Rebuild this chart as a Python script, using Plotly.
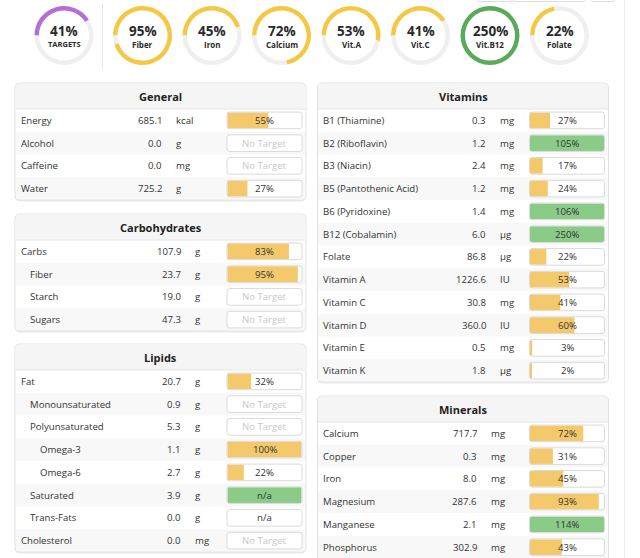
import plotly.graph_objects as go

# ---------------- data ----------------
ring_labels = ["TARGETS", "Fiber", "Iron", "Calcium", "Vit.A", "Vit.C", "Vit.B12", "Folate"]
ring_pct = [41, 95, 45, 72, 53, 41, 250, 22]

general_names = ["Energy", "Alcohol", "Caffeine", "Water"]
general_values = [685.1, 0.0, 0.0, 725.2]
general_units = ["kcal", "g", "mg", "g"]
general_pct = [55, None, None, 27]
general_indent = [0, 0, 0, 0]

carb_names = ["Carbs", "Fiber", "Starch", "Sugars"]
carb_values = [107.9, 23.7, 19.0, 47.3]
carb_units = ["g", "g", "g", "g"]
carb_pct = [83, 95, None, None]
carb_indent = [0, 1, 1, 1]

lipid_names = ["Fat", "Monounsaturated", "Polyunsaturated", "Omega-3", "Omega-6",
               "Saturated", "Trans-Fats", "Cholesterol"]
lipid_values = [20.7, 0.9, 5.3, 1.1, 2.7, 3.9, 0.0, 0.0]
lipid_units = ["g", "g", "g", "g", "g", "g", "g", "mg"]
lipid_pct = [32, None, None, 100, 22, "n/a", "n/a", None]
lipid_under_limit = [False, False, False, False, False, True, False, False]
lipid_indent = [0, 1, 1, 2, 2, 1, 1, 0]

vit_names = ["B1 (Thiamine)", "B2 (Riboflavin)", "B3 (Niacin)", "B5 (Pantothenic Acid)",
             "B6 (Pyridoxine)", "B12 (Cobalamin)", "Folate", "Vitamin A", "Vitamin C",
             "Vitamin D", "Vitamin E", "Vitamin K"]
vit_values = [0.3, 1.2, 2.4, 1.2, 1.4, 6.0, 86.8, 1226.6, 30.8, 360.0, 0.5, 1.8]
vit_units = ["mg", "mg", "mg", "mg", "mg", "µg", "µg", "IU", "mg", "IU", "mg", "µg"]
vit_pct = [27, 105, 17, 24, 106, 250, 22, 53, 41, 60, 3, 2]

min_names = ["Calcium", "Copper", "Iron", "Magnesium", "Manganese", "Phosphorus"]
min_values = [717.7, 0.3, 8.0, 287.6, 2.1, 302.9]
min_units = ["mg", "mg", "mg", "mg", "mg", "mg"]
min_pct = [72, 31, 45, 93, 114, 43]

# ---------------- styling ----------------
W, H = 640, 558
FONT = "Open Sans"
TXT = "#333333"
YELLOW_BAR = "#f3c96c"
GREEN_BAR = "#89cb87"
RING_YELLOW = "#f5c843"
RING_GREEN = "#5aaa5c"
RING_PURPLE = "#b36fd3"
RING_TRACK = "#efefef"
BORDER = "#e1e1e1"
HEADER_BG = "#f5f5f5"
STRIPE = "#f8f8f8"

HEADER_H = 26
ROW_H = 22.75
BAR_W = 75
BAR_H = 16.6

fig = go.Figure()
shapes = []
annotations = []


def rr_path(x0, y0, x1, y1, r, top_only=False):
    if top_only:
        return (f"M{x0},{y1} L{x0},{y0+r} Q{x0},{y0} {x0+r},{y0} L{x1-r},{y0} "
                f"Q{x1},{y0} {x1},{y0+r} L{x1},{y1} Z")
    return (f"M{x0+r},{y0} L{x1-r},{y0} Q{x1},{y0} {x1},{y0+r} L{x1},{y1-r} "
            f"Q{x1},{y1} {x1-r},{y1} L{x0+r},{y1} Q{x0},{y1} {x0},{y1-r} "
            f"L{x0},{y0+r} Q{x0},{y0} {x0+r},{y0} Z")


def text(x, y, s, size=9.6, color=TXT, anchor="left", bold=False):
    annotations.append(dict(
        x=x, y=y, xref="x", yref="y", text=f"<b>{s}</b>" if bold else s,
        showarrow=False, xanchor=anchor, yanchor="middle",
        font=dict(family=FONT, size=size, color=color)))


def panel(title, x0, x1, top, names, values, units, pct, indent, value_right, unit_x,
          under_limit=None, bottom=None):
    n = len(names)
    if bottom is None:
        bottom = top + HEADER_H + n * ROW_H
    shapes.append(dict(type="path", path=rr_path(x0, top + 1.5, x1, bottom + 1.5, 5),
                       fillcolor="#ececec", line=dict(width=0), layer="below"))
    shapes.append(dict(type="path", path=rr_path(x0, top, x1, bottom, 5),
                       fillcolor="white", line=dict(color=BORDER, width=1), layer="below"))
    shapes.append(dict(type="path", path=rr_path(x0 + 0.5, top + 0.5, x1 - 0.5, top + HEADER_H, 5, True),
                       fillcolor=HEADER_BG, line=dict(width=0), layer="below"))
    shapes.append(dict(type="line", x0=x0 + 0.5, x1=x1 - 0.5, y0=top + HEADER_H, y1=top + HEADER_H,
                       line=dict(color="#e6e6e6", width=1), layer="below"))
    text((x0 + x1) / 2, top + HEADER_H / 2 + 0.5, title, size=11, color="#222222",
         anchor="center", bold=True)

    bx0 = x0 + 212
    bar_x, bar_y, bar_base, bar_col = [], [], [], []
    for i in range(n):
        cy = top + HEADER_H + (i + 0.5) * ROW_H
        if i % 2 == 1:
            shapes.append(dict(type="rect", x0=x0 + 1, x1=x1 - 1,
                               y0=cy - ROW_H / 2, y1=min(cy + ROW_H / 2, bottom - 1),
                               fillcolor=STRIPE, line=dict(width=0), layer="below"))
        text(x0 + 3.5 + 9.5 * indent[i], cy, names[i])
        text(value_right, cy, f"{values[i]:.1f}", anchor="right")
        text(unit_x, cy, units[i])
        box = rr_path(bx0, cy - BAR_H / 2, bx0 + BAR_W, cy + BAR_H / 2, 2.5)
        shapes.append(dict(type="path", path=box, fillcolor="white",
                           line=dict(width=0), layer="below"))
        shapes.append(dict(type="path", path=box, fillcolor="rgba(0,0,0,0)",
                           line=dict(color="#dadada", width=1), layer="above"))
        p = pct[i]
        if p is None:
            text(bx0 + BAR_W / 2, cy, "No Target", color="#c9c9c9", anchor="center")
        elif isinstance(p, str):
            if under_limit is not None and under_limit[i]:
                bar_x.append(BAR_W - 1); bar_y.append(cy); bar_base.append(bx0 + 0.5)
                bar_col.append(GREEN_BAR)
            text(bx0 + BAR_W / 2, cy, p, anchor="center")
        else:
            bar_x.append(min(p, 100) / 100 * (BAR_W - 1))
            bar_y.append(cy)
            bar_base.append(bx0 + 0.5)
            bar_col.append(GREEN_BAR if p > 100 else YELLOW_BAR)
            text(bx0 + BAR_W / 2, cy, f"{p}%", anchor="center")
    if bar_x:
        fig.add_trace(go.Bar(x=bar_x, y=bar_y, base=bar_base, orientation="h",
                             width=BAR_H - 1, marker=dict(color=bar_col, line=dict(width=0)),
                             name=title, hoverinfo="skip", xaxis="x", yaxis="y"))


panel("General", 15, 306, 83, general_names, general_values, general_units, general_pct,
      general_indent, 163.5, 174)
panel("Carbohydrates", 15, 306, 214, carb_names, carb_values, carb_units, carb_pct,
      carb_indent, 182.5, 193)
panel("Lipids", 15, 306, 344, lipid_names, lipid_values, lipid_units, lipid_pct,
      lipid_indent, 182.5, 193, under_limit=lipid_under_limit)
panel("Vitamins", 317.5, 608.5, 83, vit_names, vit_values, vit_units, vit_pct,
      [0] * len(vit_names), 487.5, 497.5)
panel("Minerals", 317.5, 608.5, 396, min_names, min_values, min_units, min_pct,
      [0] * len(min_names), 478.5, 488.5, bottom=640)

# ---------------- rings ----------------
ring_cy, ring_r = 35.5, 29.5
for i, (lab, p) in enumerate(zip(ring_labels, ring_pct)):
    cx = 64 if i == 0 else 142.5 + (i - 1) * 69.5
    if i == 0:
        col = RING_PURPLE
    elif p > 100:
        col = RING_GREEN
    else:
        col = RING_YELLOW
    shown = min(p, 100)
    fig.add_trace(go.Pie(
        values=[shown, 100 - shown], marker=dict(colors=[col, RING_TRACK], line=dict(width=0)),
        hole=0.85, sort=False, direction="counterclockwise", rotation=270,
        textinfo="none", hoverinfo="skip", showlegend=False,
        domain=dict(x=[(cx - ring_r) / W, (cx + ring_r) / W],
                    y=[1 - (ring_cy + ring_r) / H, 1 - (ring_cy - ring_r) / H])))
    text(cx, ring_cy - 4.5, f"{p}%", size=13.5, color="#2a2a2a", anchor="center", bold=True)
    text(cx, ring_cy + 8.5, lab, size=7.5 if i == 0 else 8, color="#2a2a2a",
         anchor="center", bold=True)

# separators / page chrome
shapes.append(dict(type="line", x0=102.5, x1=102.5, y0=4, y1=70,
                   line=dict(color="#e6e6e6", width=1), layer="below"))
shapes.append(dict(type="line", x0=624.5, x1=624.5, y0=0, y1=H,
                   line=dict(color="#ececec", width=1), layer="below"))
for bx0, bx1 in [(477, 512), (512, 585), (591.5, 615)]:
    shapes.append(dict(type="path", path=rr_path(bx0, -8, bx1, 1.5, 2),
                       fillcolor="white", line=dict(color="#dddddd", width=1), layer="below"))

fig.update_layout(
    width=W, height=H, margin=dict(l=0, r=0, t=0, b=0),
    paper_bgcolor="white", plot_bgcolor="white", showlegend=False,
    barmode="overlay",
    xaxis=dict(range=[0, W], visible=False, fixedrange=True),
    yaxis=dict(range=[H, 0], visible=False, fixedrange=True),
    shapes=shapes, annotations=annotations,
    font=dict(family=FONT, color=TXT),
)

fig.write_html("out.html", config={"displayModeBar": False},
               post_script="document.body.style.margin='0';document.body.style.overflow='hidden';")
